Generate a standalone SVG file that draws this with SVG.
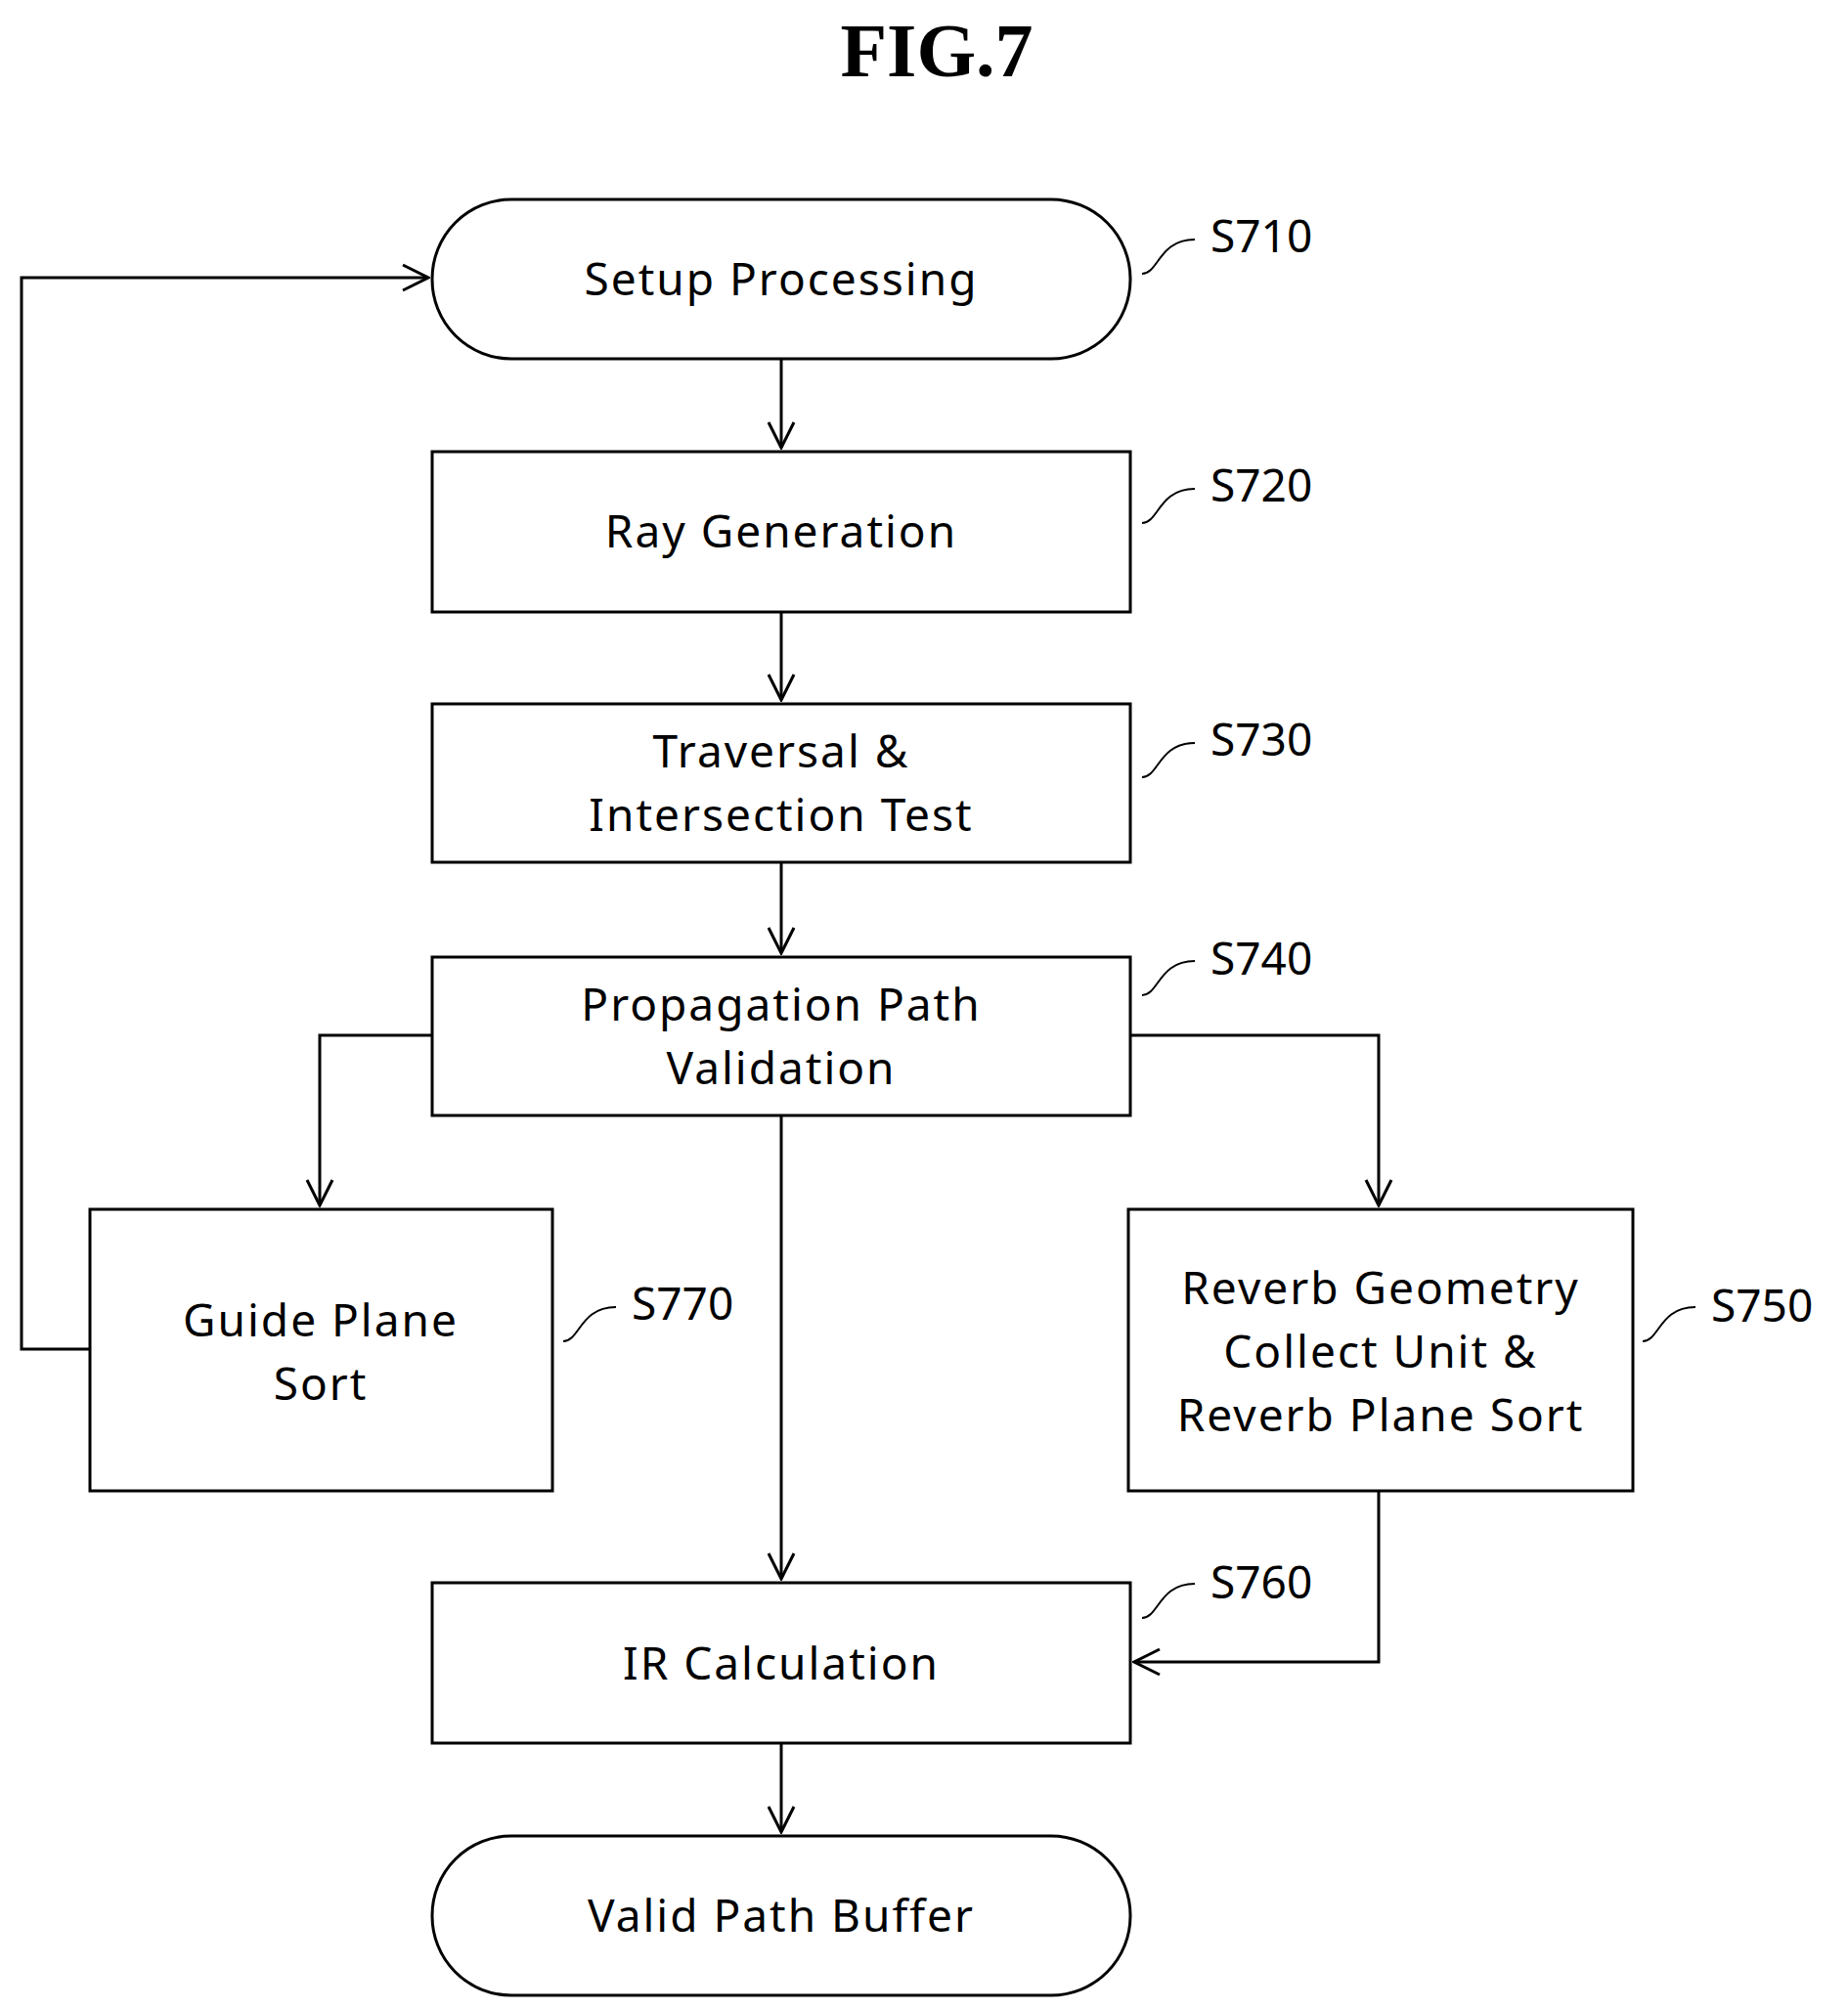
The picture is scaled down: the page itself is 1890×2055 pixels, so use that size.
<svg xmlns="http://www.w3.org/2000/svg" width="1890" height="2055" viewBox="0 0 1890 2055">
<style>
.b{fill:#fff;stroke:#000;stroke-width:3}
.t{font-family:"Noto Sans",sans-serif;font-size:46px;text-anchor:middle;letter-spacing:2px}
.l{font-family:"Noto Sans",sans-serif;font-size:46px}
.c{fill:none;stroke:#000;stroke-width:3}
.k{fill:none;stroke:#000;stroke-width:2}
</style>
<defs><marker id="a" markerWidth="30" markerHeight="30" refX="28" refY="15" orient="auto" markerUnits="userSpaceOnUse"><path d="M2,2 L28,15 L2,28" fill="none" stroke="#000" stroke-width="3"/></marker></defs>
<rect width="1890" height="2055" fill="#fff"/>
<text x="958" y="78" font-family="Liberation Serif,serif" font-weight="bold" font-size="78" text-anchor="middle">FIG.7</text>
<g id="connectors">
<path class="c" d="M799,367V458" marker-end="url(#a)"/>
<path class="c" d="M799,626V716" marker-end="url(#a)"/>
<path class="c" d="M799,882V975" marker-end="url(#a)"/>
<path class="c" d="M799,1141V1615" marker-end="url(#a)"/>
<path class="c" d="M442,1059H327V1233" marker-end="url(#a)"/>
<path class="c" d="M1156,1059H1410V1233" marker-end="url(#a)"/>
<path class="c" d="M1410,1525V1700H1160" marker-end="url(#a)"/>
<path class="c" d="M92,1380H22V284H438" marker-end="url(#a)"/>
<path class="c" d="M799,1783V1874" marker-end="url(#a)"/>
</g>
<g id="s710"><rect class="b" x="442" y="204" width="714" height="163" rx="81"/><text class="t" x="799" y="302">Setup Processing</text></g>
<g id="s720"><rect class="b" x="442" y="462" width="714" height="164"/><text class="t" x="799" y="560">Ray Generation</text></g>
<g id="s730"><rect class="b" x="442" y="720" width="714" height="162"/><text class="t" x="799" y="785">Traversal &amp;</text><text class="t" x="799" y="850">Intersection Test</text></g>
<g id="s740"><rect class="b" x="442" y="979" width="714" height="162"/><text class="t" x="799" y="1044">Propagation Path</text><text class="t" x="799" y="1109">Validation</text></g>
<g id="s770"><rect class="b" x="92" y="1237" width="473" height="288"/><text class="t" x="328" y="1367">Guide Plane</text><text class="t" x="328" y="1432">Sort</text></g>
<g id="s750"><rect class="b" x="1154" y="1237" width="516" height="288"/><text class="t" x="1412" y="1334">Reverb Geometry</text><text class="t" x="1412" y="1399">Collect Unit &amp;</text><text class="t" x="1412" y="1464">Reverb Plane Sort</text></g>
<g id="s760"><rect class="b" x="442" y="1619" width="714" height="164"/><text class="t" x="799" y="1718">IR Calculation</text></g>
<g id="end"><rect class="b" x="442" y="1878" width="714" height="163" rx="81"/><text class="t" x="799" y="1976">Valid Path Buffer</text></g>
<g id="labels">
<path class="k" d="M1168,280 C1185,280 1185,245 1222,245"/><text class="l" x="1238" y="258">S710</text>
<path class="k" d="M1168,535 C1185,535 1185,500 1222,500"/><text class="l" x="1238" y="513">S720</text>
<path class="k" d="M1168,795 C1185,795 1185,760 1222,760"/><text class="l" x="1238" y="773">S730</text>
<path class="k" d="M1168,1018 C1185,1018 1185,983 1222,983"/><text class="l" x="1238" y="997">S740</text>
<path class="k" d="M576,1372 C593,1372 593,1337 630,1337"/><text class="l" x="646" y="1350">S770</text>
<path class="k" d="M1680,1372 C1697,1372 1697,1337 1734,1337"/><text class="l" x="1750" y="1352">S750</text>
<path class="k" d="M1168,1655 C1185,1655 1185,1620 1222,1620"/><text class="l" x="1238" y="1635">S760</text>
</g>
</svg>
